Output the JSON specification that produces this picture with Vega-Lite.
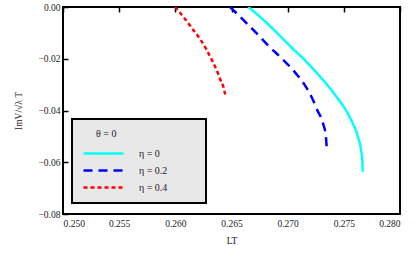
{
  "$schema": "https://vega.github.io/schema/vega-lite/v6.json",
  "autosize": "none",
  "width": 337,
  "height": 207,
  "padding": {"left": 63, "top": 7, "right": 15, "bottom": 41},
  "background": "white",
  "config": {
    "view": {"stroke": "black", "strokeWidth": 2},
    "font": "Liberation Serif",
    "axis": {
      "domain": false,
      "ticks": false,
      "grid": true,
      "gridColor": "#000000",
      "gridOpacity": 1,
      "gridWidth": 1.5,
      "zindex": 1,
      "labelFont": "Liberation Serif",
      "labelFontSize": 9.5,
      "labelColor": "#222",
      "titleFont": "Liberation Serif",
      "titleFontSize": 9.5,
      "titleFontWeight": "normal",
      "titleColor": "#222"
    },
    "legend": {
      "fillColor": "#e8e8e8",
      "strokeColor": "black",
      "strokeWidth": 2,
      "padding": 10,
      "titleFont": "Liberation Serif",
      "titleFontSize": 10,
      "titleFontWeight": "normal",
      "titleColor": "#222",
      "labelFont": "Liberation Serif",
      "labelFontSize": 10,
      "labelColor": "#222"
    }
  },
  "data": {
    "values": [
      {"s": "η = 0", "LT": 0.26650, "Im": 0},
      {"s": "η = 0", "LT": 0.26785, "Im": -0.005},
      {"s": "η = 0", "LT": 0.26905, "Im": -0.010},
      {"s": "η = 0", "LT": 0.27020, "Im": -0.015},
      {"s": "η = 0", "LT": 0.27140, "Im": -0.020},
      {"s": "η = 0", "LT": 0.27250, "Im": -0.025},
      {"s": "η = 0", "LT": 0.27350, "Im": -0.030},
      {"s": "η = 0", "LT": 0.27440, "Im": -0.035},
      {"s": "η = 0", "LT": 0.27520, "Im": -0.040},
      {"s": "η = 0", "LT": 0.27580, "Im": -0.045},
      {"s": "η = 0", "LT": 0.27625, "Im": -0.050},
      {"s": "η = 0", "LT": 0.27652, "Im": -0.055},
      {"s": "η = 0", "LT": 0.27665, "Im": -0.060},
      {"s": "η = 0", "LT": 0.27668, "Im": -0.0637},
      {"s": "η = 0.2", "LT": 0.26487, "Im": 0},
      {"s": "η = 0.2", "LT": 0.26605, "Im": -0.005},
      {"s": "η = 0.2", "LT": 0.26720, "Im": -0.010},
      {"s": "η = 0.2", "LT": 0.26830, "Im": -0.015},
      {"s": "η = 0.2", "LT": 0.26950, "Im": -0.020},
      {"s": "η = 0.2", "LT": 0.27060, "Im": -0.025},
      {"s": "η = 0.2", "LT": 0.27150, "Im": -0.030},
      {"s": "η = 0.2", "LT": 0.27215, "Im": -0.035},
      {"s": "η = 0.2", "LT": 0.27265, "Im": -0.040},
      {"s": "η = 0.2", "LT": 0.27315, "Im": -0.045},
      {"s": "η = 0.2", "LT": 0.27340, "Im": -0.050},
      {"s": "η = 0.2", "LT": 0.27347, "Im": -0.054},
      {"s": "η = 0.4", "LT": 0.25997, "Im": 0},
      {"s": "η = 0.4", "LT": 0.26075, "Im": -0.004},
      {"s": "η = 0.4", "LT": 0.26160, "Im": -0.0089},
      {"s": "η = 0.4", "LT": 0.26222, "Im": -0.0125},
      {"s": "η = 0.4", "LT": 0.26279, "Im": -0.0166},
      {"s": "η = 0.4", "LT": 0.26325, "Im": -0.0205},
      {"s": "η = 0.4", "LT": 0.26368, "Im": -0.0244},
      {"s": "η = 0.4", "LT": 0.26400, "Im": -0.028},
      {"s": "η = 0.4", "LT": 0.26427, "Im": -0.0308},
      {"s": "η = 0.4", "LT": 0.26448, "Im": -0.0347}
    ]
  },
  "resolve": {"axis": {"x": "independent", "y": "independent"}},
  "layer": [
    {
      "mark": {"type": "line", "strokeWidth": 2.5, "clip": true, "interpolate": "monotone"},
      "encoding": {
        "x": {
          "field": "LT", "type": "quantitative",
          "scale": {"domain": [0.25, 0.28], "nice": false, "zero": false},
          "axis": {
            "orient": "bottom",
            "title": "LT",
            "values": [0.250,0.255,0.260,0.265,0.270,0.275,0.280],
            "gridDash": [5, 1000],
            "format": ".3f",
            "labelPadding": 4,
            "titlePadding": 8
          }
        },
        "y": {
          "field": "Im", "type": "quantitative",
          "scale": {"domain": [-0.08, 0], "nice": false, "zero": false},
          "axis": {
            "orient": "left",
            "title": "ImV/√λ T",
            "values": [0,-0.02,-0.04,-0.06,-0.08],
            "gridDash": [5, 1000],
            "labelExpr": "replace(format(datum.value, '.2f'), '-', '−')",
            "labelPadding": 3,
            "titlePadding": 15
          }
        },
        "color": {
          "field": "s", "type": "nominal",
          "scale": {"domain": ["η = 0", "η = 0.2", "η = 0.4"], "range": ["#00ffff", "#0000ff", "#ff0000"]},
          "legend": {
            "title": "\u2800\u2800θ = 0",
            "orient": "none",
            "legendX": 9,
            "legendY": 112,
            "symbolType": "M-1,0H7",
            "symbolSize": 100,
            "symbolStrokeWidth": 2.5,
            "labelOffset": 44,
            "rowPadding": 5,
            "titlePadding": 8,
            "labelExpr": "datum.label + '\u2800\u2800\u2800\u2800'"
          }
        },
        "strokeDash": {
          "field": "s", "type": "nominal",
          "scale": {"domain": ["η = 0", "η = 0.2", "η = 0.4"], "range": [[1, 0], [9, 6], [4, 3]]},
          "legend": {"title": "\u2800\u2800θ = 0"}
        }
      }
    },
    {
      "mark": {"type": "point", "opacity": 0},
      "encoding": {
        "x": {
          "field": "LT", "type": "quantitative",
          "axis": {
            "orient": "bottom", "title": null, "labels": false,
            "gridDash": [3, 1000],
            "values": [0.251,0.252,0.253,0.254,0.256,0.257,0.258,0.259,0.261,0.262,0.263,0.264,0.266,0.267,0.268,0.269,0.271,0.272,0.273,0.274,0.276,0.277,0.278,0.279]
          }
        },
        "y": {
          "field": "Im", "type": "quantitative",
          "axis": {
            "orient": "left", "title": null, "labels": false,
            "gridDash": [3, 1000],
            "values": [-0.005,-0.01,-0.015,-0.025,-0.03,-0.035,-0.045,-0.05,-0.055,-0.065,-0.07,-0.075]
          }
        }
      }
    },
    {
      "mark": {"type": "point", "opacity": 0},
      "encoding": {
        "x": {
          "field": "LT", "type": "quantitative",
          "axis": {
            "orient": "top", "title": null, "labels": false,
            "gridDash": [5, 1000],
            "values": [0.250,0.255,0.260,0.265,0.270,0.275,0.280]
          }
        },
        "y": {
          "field": "Im", "type": "quantitative",
          "axis": {
            "orient": "right", "title": null, "labels": false,
            "gridDash": [5, 1000],
            "values": [0,-0.02,-0.04,-0.06,-0.08]
          }
        }
      }
    },
    {
      "mark": {"type": "point", "opacity": 0},
      "encoding": {
        "x": {
          "field": "LT", "type": "quantitative",
          "axis": {
            "orient": "top", "title": null, "labels": false,
            "gridDash": [3, 1000],
            "values": [0.251,0.252,0.253,0.254,0.256,0.257,0.258,0.259,0.261,0.262,0.263,0.264,0.266,0.267,0.268,0.269,0.271,0.272,0.273,0.274,0.276,0.277,0.278,0.279]
          }
        },
        "y": {
          "field": "Im", "type": "quantitative",
          "axis": {
            "orient": "right", "title": null, "labels": false,
            "gridDash": [3, 1000],
            "values": [-0.005,-0.01,-0.015,-0.025,-0.03,-0.035,-0.045,-0.05,-0.055,-0.065,-0.07,-0.075]
          }
        }
      }
    }
  ]
}
